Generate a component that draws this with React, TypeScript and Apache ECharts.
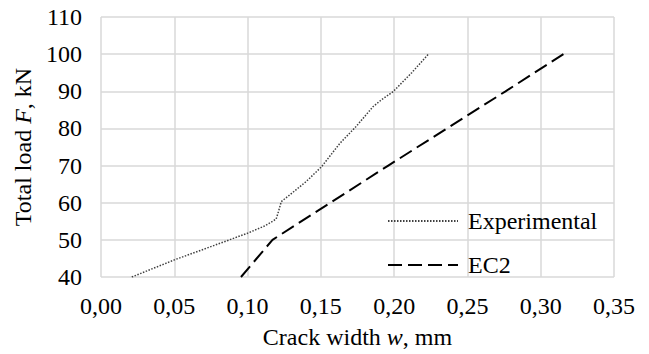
import React, { useEffect, useRef } from "react";
import * as echarts from "echarts";

const expW = [0.021, 0.05, 0.08, 0.1, 0.112, 0.1195, 0.121, 0.123, 0.13, 0.14, 0.1505, 0.163, 0.174, 0.1857, 0.1913, 0.1993, 0.212, 0.2234];
const expF = [40, 44.6, 48.9, 51.8, 53.8, 55.6, 57.5, 60.3, 62.5, 65.7, 69.7, 76, 80.5, 85.9, 87.7, 89.9, 95, 100];

const ec2W = [0.0955, 0.117, 0.1565, 0.196, 0.236, 0.276, 0.3155];
const ec2F = [40, 50, 60, 70, 80, 90, 100];

const xTicks = { min: 0, max: 0.35, interval: 0.05 };
const yTicks = { min: 40, max: 110, interval: 10 };

const FONT = "Liberation Serif";

export default function App() {
  const ref = useRef<HTMLDivElement>(null);
  useEffect(() => {
    if (!ref.current) return;
    const chart = echarts.init(ref.current, undefined, { renderer: "svg" });
    const grid = { lineStyle: { color: "#d9d9d9", width: 1.5 } };
    const txt = { fontFamily: FONT, fontSize: 24, color: "#000" };
    const rich = { n: { ...txt }, i: { ...txt, fontStyle: "italic" } };
    chart.setOption({
      animation: false,
      backgroundColor: "#fff",
      grid: { left: 101, right: 35, top: 17, bottom: 77, containLabel: false },
      textStyle: { fontFamily: FONT },
      legend: {
        data: ["Experimental", "EC2"],
        orient: "vertical",
        left: 382,
        top: 204,
        itemWidth: 70,
        itemHeight: 12,
        itemGap: 20,
        itemStyle: { opacity: 0 },
        formatter: (name: string) => `{n|${name}}`,
        textStyle: { ...txt, padding: [0, 0, 0, 5], rich },
      },
      xAxis: {
        type: "value",
        ...xTicks,
        name: "{n|Crack width }{i|w}{n|, mm}",
        nameLocation: "middle",
        nameGap: 48,
        nameTextStyle: { ...txt, rich },
        axisLine: { show: false },
        axisTick: { show: false },
        splitLine: { show: true, ...grid },
        axisLabel: {
          ...txt,
          margin: 17,
          rich,
          formatter: (v: number) => `{n|${v.toFixed(2).replace(".", ",")}}`,
        },
      },
      yAxis: {
        type: "value",
        ...yTicks,
        name: "{n|Total load }{i|F}{n|, kN}",
        nameLocation: "middle",
        nameGap: 64,
        nameTextStyle: { ...txt, rich },
        axisLine: { show: false },
        axisTick: { show: false },
        splitLine: { show: true, ...grid },
        axisLabel: { ...txt, margin: 19, rich, formatter: (v: number) => `{n|${v}}` },
      },
      series: [
        {
          name: "Experimental",
          type: "line",
          symbol: "none",
          data: expW.map((w, i) => [w, expF[i]]),
          lineStyle: { color: "#404040", width: 1.5, type: [1.5, 1.5] },
          itemStyle: { color: "#404040" },
        },
        {
          name: "EC2",
          type: "line",
          symbol: "none",
          data: ec2W.map((w, i) => [w, ec2F[i]]),
          lineStyle: { color: "#000", width: 2, type: [14, 6] },
          itemStyle: { color: "#000" },
        },
      ],
    });
    return () => chart.dispose();
  }, []);
  return (
    <div
      ref={ref}
      style={{ position: "fixed", left: 0, top: 0, width: 649, height: 354, background: "#fff" }}
    />
  );
}
